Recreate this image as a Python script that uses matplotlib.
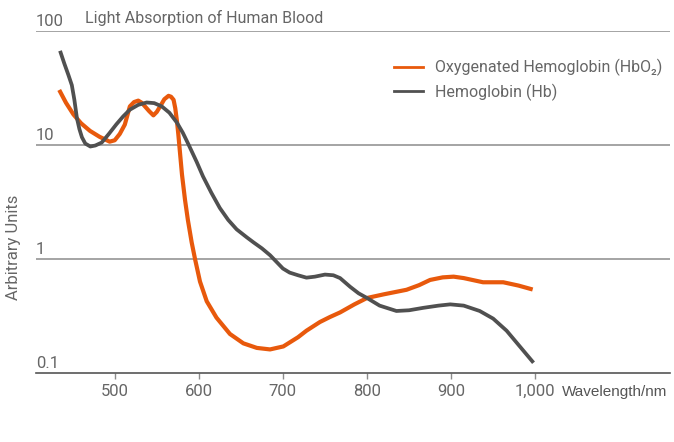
import matplotlib
matplotlib.use("Agg")
import matplotlib.pyplot as plt
from matplotlib.lines import Line2D
import matplotlib.transforms as mtransforms

# ==== DATA ====
hbo2_nm = [434, 442, 451, 460, 470.6, 482, 494, 500, 506, 512, 518, 523, 528, 532, 536,
           541, 546, 550, 554, 559, 564, 567, 570, 572, 574, 575.6, 577.6, 580, 583.6,
           587, 591.5, 595.5, 601.4, 609.4, 621, 637, 653, 669, 684.7, 700.5, 718, 728,
           744, 756, 768, 785, 800, 820, 847, 862, 875, 890, 903, 915, 938, 962, 980, 997]
hbo2_val = [30.4, 23.5, 18.5, 15.5, 13.3, 11.8, 10.7, 11.0, 12.5, 15.1, 21.8, 23.8, 24.5, 23.5, 21.8,
            19.8, 18.2, 19.5, 21.8, 25.2, 27, 26.5, 24.9, 21, 16.2, 12.5, 8.6, 5.5, 3.3,
            2.2, 1.40, 1.0, 0.634, 0.426, 0.306, 0.22, 0.182, 0.166, 0.161, 0.171, 0.206, 0.235,
            0.28, 0.31, 0.34, 0.40, 0.455, 0.49, 0.537, 0.59, 0.655, 0.69, 0.70, 0.68, 0.625, 0.625, 0.585, 0.54]

hb_nm = [435, 440, 445, 449, 452, 455, 458, 461, 465, 471, 477, 484.5, 493, 502, 510,
         518, 528, 538, 547, 556, 565, 574, 581, 587.5, 597.5, 605, 615, 625, 635, 645,
         657, 665, 675, 684.7, 692, 700, 708, 718, 728, 738, 750, 760, 768, 780, 790,
         800, 815, 835, 850, 867, 885, 899, 915, 934, 950, 966, 982, 998]
hb_val = [67, 52, 41, 33.5, 25, 17.3, 13.8, 11.7, 10.3, 9.7, 9.9, 10.5, 12.5, 15.2, 17.8,
          20.4, 22.5, 23.6, 23.3, 21.8, 19.2, 15.7, 12.8, 10.2, 7.1, 5.3, 3.8, 2.8, 2.2, 1.82,
          1.55, 1.40, 1.24, 1.08, 0.95, 0.825, 0.76, 0.72, 0.686, 0.70, 0.73, 0.72, 0.68, 0.57, 0.5,
          0.455, 0.39, 0.35, 0.355, 0.373, 0.39, 0.40, 0.39, 0.35, 0.30, 0.235, 0.17, 0.123]

x_ticks = [500, 600, 700, 800, 900, 1000]
x_tick_labels = ["500", "600", "700", "800", "900", "1,000"]
y_levels = [0.1, 1, 10, 100]
y_level_labels = ["0.1", "1", "10", "100"]

# ==== STYLE ====
ORANGE = "#E8590C"
HB_GREY = "#505050"
DARK = "#555555"
GRID = "#8c8c8c"
TEXT = "#666666"

plt.rcParams['font.family'] = ["Liberation Sans Narrow", "Roboto", "DejaVu Sans"]

fig = plt.figure(figsize=(6.74, 4.42), dpi=100)
ax = fig.add_axes([36 / 674, 1 - 373 / 442, 634 / 674, 342 / 442])

ax.plot(hbo2_nm, hbo2_val, color=ORANGE, lw=3.0, solid_capstyle='butt',
        solid_joinstyle='round', zorder=3)
ax.plot(hb_nm, hb_val, color=HB_GREY, lw=2.7, solid_capstyle='butt',
        solid_joinstyle='round', zorder=4)

ax.set_yscale('log')
ax.set_ylim(0.1, 100)
ax.set_xlim(406.4, 1160.3)

for s in ['top', 'right', 'left']:
    ax.spines[s].set_visible(False)
ax.spines['bottom'].set_color(DARK)
ax.spines['bottom'].set_linewidth(1.2)

# horizontal rules at each decade
for lv in y_levels[1:]:
    ax.axhline(lv, color=GRID, lw=1.1, zorder=1)

ax.set_yticks([])
ax.yaxis.set_minor_locator(matplotlib.ticker.NullLocator())
ax.set_xticks(x_ticks)
ax.set_xticklabels(x_tick_labels, fontsize=12, color=TEXT)
ax.tick_params(axis='x', length=4, width=1, color=GRID, pad=4)

# decade labels sit on top of their rule, flush left
trans = mtransforms.blended_transform_factory(ax.transAxes, ax.transData)
for lv, lab in zip(y_levels, y_level_labels):
    ax.text(0.0, lv * 1.05, lab, transform=trans, ha='left', va='bottom',
            fontsize=12, color=TEXT)

fig.text(85 / 674, 1 - 23 / 442, "Light Absorption of Human Blood",
         ha='left', va='baseline', fontsize=11.5, color=TEXT)

fig.text(14 / 674, 1 - 247 / 442, "Arbitrary Units", rotation=90, ha='center', va='center',
         fontsize=12, color=TEXT)

fig.text(562 / 674, 1 - 392 / 442, "Wavelength/nm", ha='left', va='center',
         fontsize=11, color=DARK, family=["Liberation Sans", "DejaVu Sans"])

handles = [Line2D([], [], color=ORANGE, lw=2.0), Line2D([], [], color=HB_GREY, lw=2.0)]
labels = ["Oxygenated Hemoglobin (HbO\u2082)", "Hemoglobin (Hb)"]
leg = fig.legend(handles, labels, loc='upper left', bbox_to_anchor=(394 / 674, 1 - 59 / 442),
                 frameon=False, fontsize=11.5, handlelength=1.8, handletextpad=0.75,
                 labelspacing=0.45, borderpad=0, borderaxespad=0)
for t in leg.get_texts():
    t.set_color(TEXT)

fig.savefig("out.png", dpi=100)
